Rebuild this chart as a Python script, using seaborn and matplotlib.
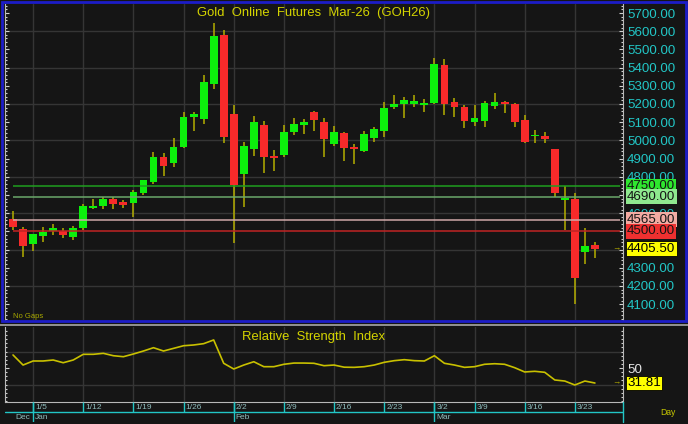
import numpy as np
import pandas as pd
import seaborn as sns
import matplotlib
matplotlib.use("Agg")
import matplotlib.pyplot as plt
from matplotlib import transforms
from matplotlib.ticker import MultipleLocator, FixedLocator, FuncFormatter
from matplotlib.patches import Rectangle
from matplotlib.lines import Line2D

# daily OHLC (Dec 31 .. Mar 25)
opens = [4567, 4515, 4432, 4473, 4500, 4502, 4471, 4517, 4630, 4638,
         4676, 4662, 4658, 4709, 4773, 4907, 4874, 4964, 5130, 5119,
         5312, 5579, 5143, 4814, 4951, 5085, 4910, 4920, 5044, 5086,
         5154, 5103, 4980, 5039, 4960, 4943, 5015, 5052, 5182, 5202,
         5202, 5196, 5207, 5414, 5213, 5182, 5101, 5107, 5191, 5209,
         5200, 5112, 5022, 5024, 4953, 4673, 4678, 4387, 4427]
highs = [4612, 4526, 4486, 4522, 4541, 4517, 4530, 4651, 4678, 4691,
         4691, 4673, 4727, 4785, 4935, 4929, 5015, 5154, 5154, 5359,
         5647, 5607, 5195, 4993, 5134, 5108, 4947, 5085, 5125, 5119,
         5163, 5125, 5079, 5045, 4979, 5053, 5075, 5209, 5249, 5240,
         5248, 5229, 5451, 5446, 5231, 5195, 5195, 5217, 5259, 5217,
         5207, 5140, 5057, 5045, 4953, 4749, 4709, 4520, 4440]
lows = [4508, 4361, 4392, 4444, 4482, 4462, 4453, 4508, 4623, 4623,
        4623, 4627, 4581, 4700, 4759, 4804, 4855, 4960, 5053, 5090,
        5281, 4987, 4438, 4632, 4914, 4823, 4834, 4910, 5030, 5035,
        5053, 4910, 4971, 4888, 4870, 4938, 4990, 5017, 5171, 5121,
        5185, 5154, 5200, 5140, 5130, 5070, 5079, 5075, 5174, 5149,
        5075, 4984, 4984, 4984, 4691, 4508, 4101, 4322, 4352]
closes = [4526, 4422, 4486, 4498, 4517, 4478, 4520, 4641, 4636, 4680,
          4652, 4643, 4716, 4782, 4907, 4861, 4962, 5127, 5143, 5323,
          5575, 5017, 4753, 4968, 5103, 4910, 4905, 5048, 5090, 5099,
          5112, 5006, 5048, 4957, 4955, 5035, 5063, 5178, 5200, 5222,
          5215, 5206, 5420, 5202, 5182, 5107, 5123, 5204, 5209, 5200,
          5103, 4993, 5028, 5006, 4713, 4679, 4242, 4421, 4405.5]
rsi = [65.8, 53.6, 58.5, 58.5, 59.7, 56.4, 59.7, 66.6, 66.6, 67.8,
       64.9, 63.7, 67.0, 70.6, 74.6, 70.6, 73.8, 77.0, 77.9, 79.5,
       84.0, 55.7, 48.8, 53.6, 57.6, 51.6, 51.6, 54.5, 56.0, 56.0,
       55.7, 52.8, 53.6, 51.0, 50.8, 51.6, 53.6, 56.9, 58.9, 60.1,
       58.9, 58.5, 64.9, 55.7, 53.6, 50.8, 51.6, 54.5, 55.2, 54.5,
       50.4, 45.2, 46.0, 44.8, 35.5, 34.2, 29.4, 34.2, 31.81]

week_labels = ["1/5", "1/12", "1/19", "1/26", "2/2", "2/9", "2/16",
               "2/23", "3/2", "3/9", "3/16", "3/23"]
week_idx = [2, 7, 12, 17, 22, 27, 32, 37, 42, 46, 51, 56]
month_labels = ["Dec", "Jan", "Feb", "Mar"]
month_idx = [0, 2, 22, 42]

levels = [4750, 4690, 4565, 4500]
level_line_colors = ["#1f9f1f", "#6aa86a", "#cfa8a8", "#c02424"]
level_box_colors = ["#2ee62e", "#8fe88f", "#f2aaa2", "#ee3030"]
# price labels fully hidden behind the level boxes on the reference
hidden_price_labels = [4400, 4500]

BG = "#151515"
GRID = "#353535"
GREEN = "#0cf00c"
RED = "#f72a2a"
WICK = "#b4ae00"
YEL = "#d4d400"
CYAN = "#22c6c6"
TICK = "#d0d0d0"

sns.set_theme(style="dark")
plt.rcParams['font.family'] = ['Liberation Sans', 'DejaVu Sans']

W, H = 688, 424
def box(l, t, r, b):
    return [l / W, 1 - b / H, (r - l) / W, (b - t) / H]

fig = plt.figure(figsize=(6.88, 4.24), dpi=100, facecolor=BG)
ax_p = fig.add_axes(box(4.5, 4, 623, 320))
ax_r = fig.add_axes(box(4.5, 327, 623, 402))
ax_d = fig.add_axes(box(4.5, 402, 623, 422))

df = pd.DataFrame({"o": opens, "h": highs, "l": lows, "c": closes, "rsi": rsi})
df["i"] = np.arange(len(df))
X0, X1 = -0.85, 60.8

# ---- price panel
ax = ax_p
ax.set_facecolor(BG)
for g in range(4200, 5800, 200):
    ax.axhline(g, color=GRID, lw=1, zorder=0.5)
for w in week_idx:
    ax.axvline(w, color=GRID, lw=1, zorder=0.5)

up = df["c"] >= df["o"]
body_lo = np.minimum(df["o"], df["c"])
body_h = np.maximum((df["c"] - df["o"]).abs(), 10)
ax.vlines(df["i"], df["l"], df["h"], color=WICK, lw=1.1, zorder=2)
ax.bar(df["i"], body_h, bottom=body_lo, width=0.78,
       color=np.where(up, GREEN, RED), linewidth=0, zorder=3)

blend = transforms.blended_transform_factory(ax.transAxes, ax.transData)
for lv, lc, bc in zip(levels, level_line_colors, level_box_colors):
    ax.hlines(lv, 0, 60.5, color=lc, lw=1.1, zorder=4)
    ax.text(1.0065, lv, f"{lv:.2f}", transform=blend, ha="left", va="center",
            fontsize=9.6, color="#141414", zorder=5,
            bbox=dict(boxstyle="square,pad=0.1", fc=bc, ec="none"))
last = closes[-1]
ax.text(1.0065, last, f"{last:.2f}", transform=blend, ha="left", va="center",
        fontsize=9.6, color="#000000", zorder=5,
        bbox=dict(boxstyle="square,pad=0.1", fc="#ffff00", ec="#000000", lw=0.6))
ax.text(0.990, last, "\u2192", transform=blend, ha="center", va="center",
        fontsize=6, color=WICK)

ax.set_xlim(X0, X1)
ax.set_ylim(4013, 5749.5)
ax.set_xticks([])
ax.yaxis.set_major_locator(MultipleLocator(100))
ax.yaxis.set_minor_locator(MultipleLocator(20))
ax.yaxis.set_major_formatter(FuncFormatter(
    lambda v, p: "" if round(v) in hidden_price_labels else f"{v:.2f}"))
ax.tick_params(axis="y", which="both", direction="in", left=True, right=True,
               labelleft=False, labelright=True, color=TICK, width=0.8)
ax.tick_params(axis="y", which="major", length=3, pad=3, labelsize=9.6,
               labelcolor=CYAN)
ax.tick_params(axis="y", which="minor", length=1.5)
for s in ("top", "bottom"):
    ax.spines[s].set_visible(False)
for s in ("left", "right"):
    ax.spines[s].set_color("#b8b8b8")
    ax.spines[s].set_linewidth(0.8)
ax.text(0.5, 0.963, "Gold  Online  Futures  Mar-26  (GOH26)",
        transform=ax.transAxes, ha="center", va="baseline",
        fontsize=9.4, color=YEL)
ax.text(0.0137, 0.011, "No Gaps", transform=ax.transAxes, ha="left",
        va="center", fontsize=5.5, color="#a8a800")

# ---- RSI panel
ax = ax_r
ax.set_facecolor(BG)
for g in (70, 30):
    ax.axhline(g, color=GRID, lw=1, zorder=0.5)
for w in week_idx:
    ax.axvline(w, color=GRID, lw=1, zorder=0.5)
sns.lineplot(data=df, x="i", y="rsi", ax=ax, color="#c8c000", lw=1.2)
ax.set_xlim(X0, X1)
ax.set_ylim(8.8, 99.7)
ax.set_xlabel("")
ax.set_ylabel("")
ax.set_xticks([])
ax.yaxis.set_major_locator(FixedLocator([50]))
ax.yaxis.set_minor_locator(MultipleLocator(5))
ax.tick_params(axis="y", which="both", direction="in", left=True, right=True,
               labelleft=False, labelright=True, color=TICK, width=0.8)
ax.tick_params(axis="y", which="major", length=3, pad=3, labelsize=9.6,
               labelcolor="#e6e6e6")
ax.tick_params(axis="y", which="minor", length=1.5)
ax.spines["top"].set_visible(False)
for s in ("left", "right", "bottom"):
    ax.spines[s].set_color("#b8b8b8")
    ax.spines[s].set_linewidth(0.8)
blend_r = transforms.blended_transform_factory(ax.transAxes, ax.transData)
ax.text(1.0065, rsi[-1], f"{rsi[-1]:.2f}", transform=blend_r, ha="left",
        va="center", fontsize=9.6, color="#000000", zorder=5,
        bbox=dict(boxstyle="square,pad=0.1", fc="#ffff00", ec="#000000", lw=0.6))
ax.text(0.990, rsi[-1], "\u2192", transform=blend_r, ha="center", va="center",
        fontsize=6, color=WICK)
ax.text(0.5, 0.827, "Relative  Strength  Index", transform=ax.transAxes,
        ha="center", va="baseline", fontsize=9.4, color=YEL)

# ---- date strip
ax = ax_d
ax.set_xlim(X0, X1)
ax.set_ylim(0, 1)
ax.set_xticks([])
ax.set_yticks([])
ax.patch.set_alpha(0)
for s in ax.spines.values():
    s.set_visible(False)
ax.axhline(0.5, color=CYAN, lw=1)
ax.vlines(week_idx, 0.5, 1, color=CYAN, lw=1)
ax.vlines(month_idx[1:], 0, 1, color=CYAN, lw=1)
ax.plot([1, 1], [0, 1], transform=ax.transAxes, color=CYAN, lw=1, clip_on=False)
off = transforms.offset_copy(ax.transData, fig=fig, x=2, y=0, units="dots")
for w, lbl in zip(week_idx, week_labels):
    ax.text(w, 0.72, lbl, transform=off, ha="left", va="center",
            fontsize=6.0, color="#8fbcbc")
for m, lbl in zip(month_idx, month_labels):
    ax.text(m, 0.24, lbl, transform=off, ha="left", va="center",
            fontsize=6.0, color="#8fbcbc")

# frames
fig.add_artist(Rectangle((2 / W, 1 - 321 / H), 684 / W, 319.5 / H,
                         transform=fig.transFigure, fill=False,
                         ec="#1c1cc8", lw=2))
fig.add_artist(Line2D([0, 1], [1 - 325 / H] * 2, transform=fig.transFigure,
                      color="#a8a8a8", lw=1.2))
fig.text(660 / W, 1 - 412.5 / H, "Day", ha="left", va="center",
         fontsize=6.2, color="#c8c800")

fig.savefig("out.png", dpi=100, facecolor=BG)
